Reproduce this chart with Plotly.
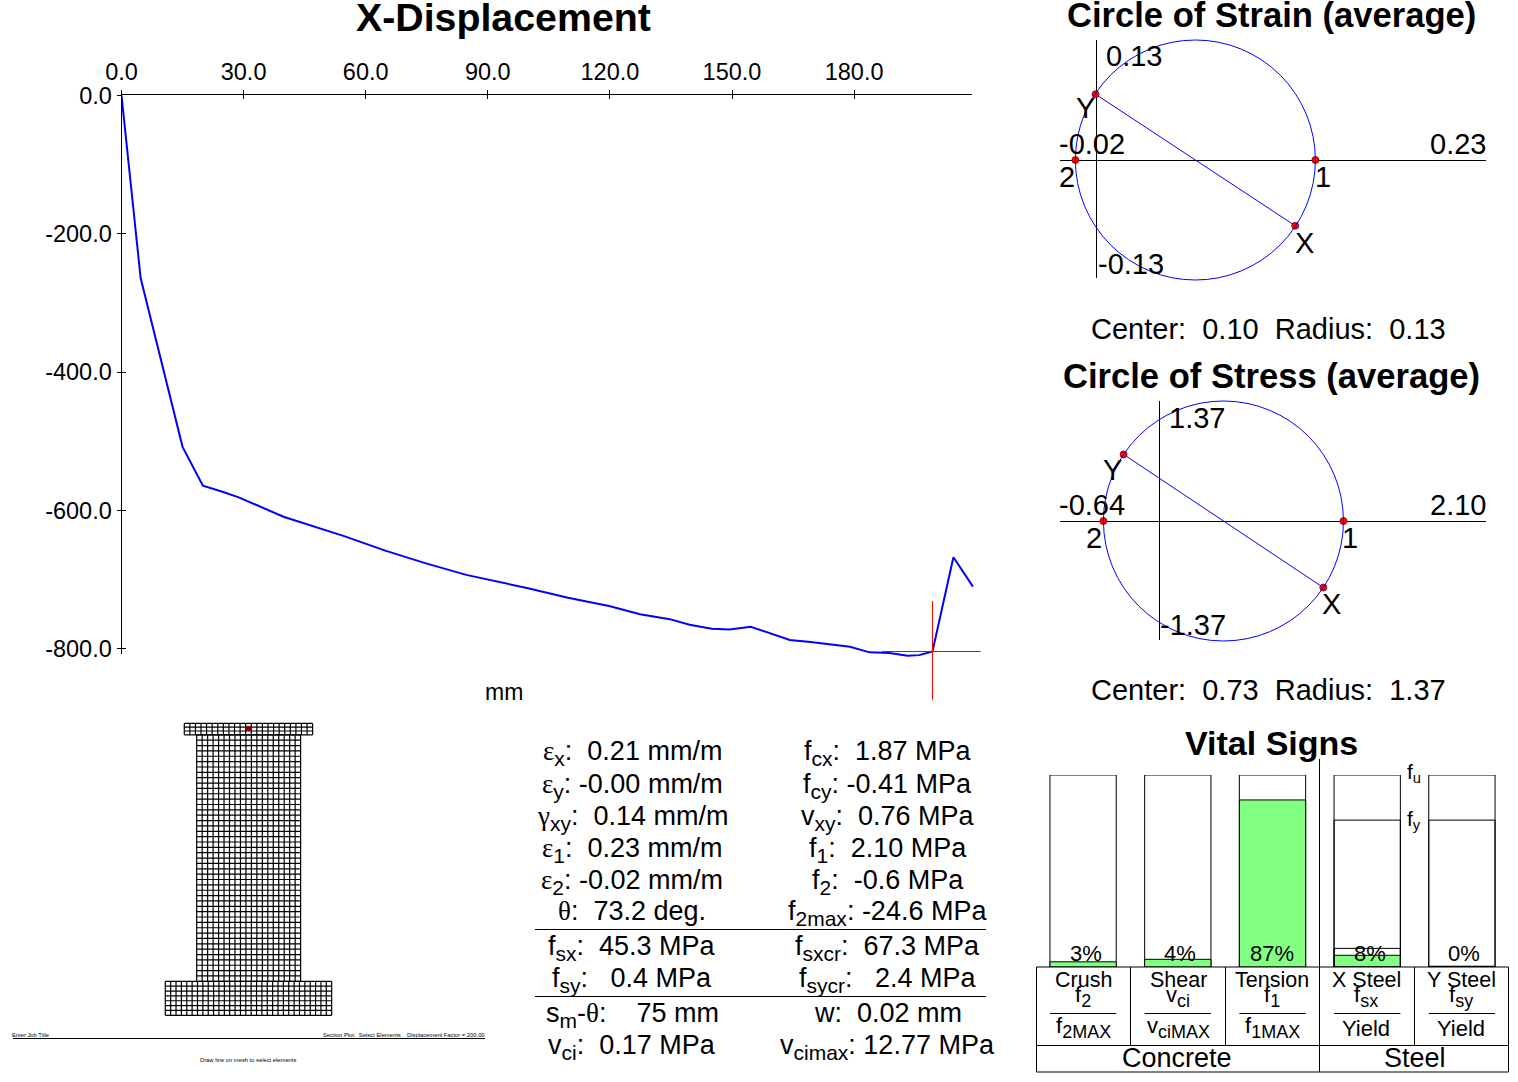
import plotly.graph_objects as go

W = 1518
H = 1082

# load curve
disp_x = [0.0, 4.7, 15.0, 20.0, 24.8, 28.8, 39.8, 44.7, 54.7, 64.8, 74.6, 84.7, 99.6, 109.7, 119.8, 127.4, 134.7,
          139.6, 145.0, 149.4, 154.6, 164.2, 169.3, 179.0, 183.8, 188.7, 193.1, 196.0, 199.26, 204.4, 209.2]
disp_y = [0, -264, -508, -564, -573, -581, -609, -618, -637, -658, -676, -693, -712, -726, -738, -750, -757,
          -765, -771, -772, -768, -787, -790, -797, -805, -806, -810, -809, -803.8, -667.6, -710]
x_ticks = [0, 30, 60, 90, 120, 150, 180]
x_tick_text = ["0.0", "30.0", "60.0", "90.0", "120.0", "150.0", "180.0"]
y_ticks = [0, -200, -400, -600, -800]
y_tick_text = ["0.0", "-200.0", "-400.0", "-600.0", "-800.0"]
cursor_x = 199.26
cursor_y = -803.8

# circles: centre, radius, then the X, Y, 1, 2 points
strain_center = 0.103
strain_radius = 0.125
strain_pts_x = [0.207, -0.001, 0.228, -0.022]
strain_pts_y = [-0.0685, 0.0685, 0, 0]
stress_center = 0.73
stress_radius = 1.37
stress_pts_x = [1.87, -0.41, 2.10, -0.64]
stress_pts_y = [-0.76, 0.76, 0, 0]

# vital signs
bar_names = ["Crush", "Shear", "Tension", "X Steel", "Y Steel"]
bar_full = [100, 100, 100, 100, 100]
bar_fill = [2.7, 4.0, 87.0, 6.1, 0.4]
bar_pct = ["3%", "4%", "87%", "8%", "0%"]
steel_bars = [3, 4]
steel_fy = [76.5, 76.5]
x_steel_bar = [3]
x_steel_cr = [9.7]

# mesh blocks: left, right, bottom, top, columns, rows
mesh_left = [-2.27, 0.0, -5.74]
mesh_right = [21.2, 19.0, 24.68]
mesh_bottom = [46.0, 0.0, -6.34]
mesh_top = [48.13, 46.0, 0.0]
mesh_cols = [23, 19, 31]
mesh_rows = [3, 46, 7]
picked_x = [8.96, 9.99, 9.99, 8.96, 8.96]
picked_y = [46.8, 46.8, 47.6, 47.6, 46.8]


def sub(s, size=21):
    return "<sub><span style='font-size:%gpx'>%s</span></sub>" % (size, s)


def gr(s):
    return "<span style='font-family:Liberation Serif'>" + s + "</span>"


left_rows = [
    gr("ε") + sub("x") + ":  0.21 mm/m",
    gr("ε") + sub("y") + ": -0.00 mm/m",
    gr("γ") + sub("xy") + ":  0.14 mm/m",
    gr("ε") + sub("1") + ":  0.23 mm/m",
    gr("ε") + sub("2") + ": -0.02 mm/m",
    gr("θ") + ":  73.2 deg.",
    "f" + sub("sx") + ":  45.3 MPa",
    "f" + sub("sy") + ":   0.4 MPa",
    "s" + sub("m") + "-" + gr("θ") + ":    75 mm",
    "v" + sub("ci") + ":  0.17 MPa",
]
right_rows = [
    "f" + sub("cx") + ":  1.87 MPa",
    "f" + sub("cy") + ": -0.41 MPa",
    "v" + sub("xy") + ":  0.76 MPa",
    "f" + sub("1") + ":  2.10 MPa",
    "f" + sub("2") + ":  -0.6 MPa",
    "f" + sub("2max") + ": -24.6 MPa",
    "f" + sub("sxcr") + ":  67.3 MPa",
    "f" + sub("sycr") + ":   2.4 MPa",
    "w:  0.02 mm",
    "v" + sub("cimax") + ": 12.77 MPa",
]
upper_syms = ["f" + sub("2", 18), "v" + sub("ci", 18), "f" + sub("1", 18), "f" + sub("sx", 18), "f" + sub("sy", 18)]
lower_syms = ["f" + sub("2MAX", 18), "v" + sub("ciMAX", 18), "f" + sub("1MAX", 18), "Yield", "Yield"]

FONT = "Liberation Sans"


def fx(p):
    return p / W


def fy(p):
    return 1 - p / H


def dom_x(a, b):
    return [fx(a), fx(b)]


def dom_y(top, bottom):
    return [fy(bottom), fy(top)]


notes = []


def label(x, y, text, size=29, bold=False, anchor="center"):
    if bold:
        text = "<b>" + text + "</b>"
    notes.append(dict(x=fx(x), y=fy(y), xref="paper", yref="paper", text=text, showarrow=False,
                      xanchor=anchor, yanchor="middle", borderpad=0, borderwidth=0,
                      font=dict(family=FONT, size=size, color="black")))


shapes = []


def rule(x0, y0, x1, y1, width=1):
    shapes.append(dict(type="line", xref="paper", yref="paper", x0=fx(x0), y0=fy(y0), x1=fx(x1), y1=fy(y1),
                       line=dict(color="black", width=width)))


fig = go.Figure()

# main curve sits on its own wider axes so the cursor can run past the drawn ones
fig.add_trace(go.Scatter(x=disp_x, y=disp_y, mode="lines", line=dict(color="#0000ff", width=2),
                         xaxis="x", yaxis="y", hoverinfo="skip"))
fig.add_trace(go.Scatter(x=[cursor_x - 12.5, cursor_x + 11.84], y=[cursor_y, cursor_y], mode="lines",
                         line=dict(color="#ff0000", width=1), hoverinfo="skip"))
fig.add_trace(go.Scatter(x=[cursor_x, cursor_x], y=[cursor_y + 73, cursor_y - 69.7], mode="lines",
                         line=dict(color="#ff0000", width=1), hoverinfo="skip"))
fig.add_trace(go.Scatter(x=[None], y=[None], xaxis="x6", yaxis="y6", hoverinfo="skip"))
fig.add_trace(go.Scatter(x=[None], y=[None], xaxis="x7", yaxis="y7", hoverinfo="skip"))


def circle(center, radius, xs, ys, xa, ya, low, high):
    shapes.append(dict(type="circle", xref=xa, yref=ya, x0=center - radius, x1=center + radius,
                       y0=-radius, y1=radius, line=dict(color="#0000ff", width=1)))
    fig.add_trace(go.Scatter(x=[0, 0], y=[low, high], mode="lines", line=dict(color="black", width=1),
                             xaxis=xa, yaxis=ya, hoverinfo="skip"))
    fig.add_trace(go.Scatter(x=xs[:2], y=ys[:2], mode="lines", line=dict(color="#0000ff", width=1),
                             xaxis=xa, yaxis=ya, hoverinfo="skip"))
    fig.add_trace(go.Scatter(x=xs, y=ys, mode="markers", cliponaxis=False,
                             marker=dict(color="#ff0000", size=7, line=dict(color="#800000", width=0.8)),
                             xaxis=xa, yaxis=ya, hoverinfo="skip"))


circle(strain_center, strain_radius, strain_pts_x, strain_pts_y, "x2", "y2", -0.1229, 0.125)
circle(stress_center, stress_radius, stress_pts_x, stress_pts_y, "x3", "y3", -1.359, 1.37)

# mesh
mesh_xs = []
mesh_ys = []
for left, right, bottom, top, cols, rows in zip(mesh_left, mesh_right, mesh_bottom, mesh_top, mesh_cols, mesh_rows):
    for i in range(cols + 1):
        x = left + (right - left) * i / cols
        mesh_xs += [x, x, None]
        mesh_ys += [bottom, top, None]
    for j in range(rows + 1):
        y = bottom + (top - bottom) * j / rows
        mesh_xs += [left, right, None]
        mesh_ys += [y, y, None]
fig.add_trace(go.Scatter(x=mesh_xs, y=mesh_ys, mode="lines", line=dict(color="black", width=1.2),
                         xaxis="x4", yaxis="y4", hoverinfo="skip"))
fig.add_trace(go.Scatter(x=picked_x, y=picked_y, mode="lines", fill="toself", fillcolor="#8b0000",
                         line=dict(color="#8b0000", width=0.5), xaxis="x4", yaxis="y4", hoverinfo="skip"))

# vital sign bars
bar_idx = list(range(len(bar_names)))
outline = dict(color="black", width=1)
fig.add_trace(go.Bar(x=bar_idx, y=bar_full, width=0.7, marker=dict(color="white", line=outline),
                     xaxis="x5", yaxis="y5", hoverinfo="skip"))
fig.add_trace(go.Bar(x=bar_idx, y=bar_fill, width=0.7, marker=dict(color="#80ff80", line=outline),
                     xaxis="x5", yaxis="y5", hoverinfo="skip"))
fig.add_trace(go.Bar(x=steel_bars, y=steel_fy, width=0.7, marker=dict(color="rgba(0,0,0,0)", line=outline),
                     xaxis="x5", yaxis="y5", hoverinfo="skip"))
fig.add_trace(go.Bar(x=x_steel_bar, y=x_steel_cr, width=0.7, marker=dict(color="rgba(0,0,0,0)", line=outline),
                     xaxis="x5", yaxis="y5", hoverinfo="skip"))

# titles
label(503, 17, "X-Displacement", size=39.3, bold=True)
label(1271, 15, "Circle of Strain (average)", size=34.6, bold=True)
label(1271, 376, "Circle of Stress (average)", size=34.6, bold=True)
label(1271, 743, "Vital Signs", size=34, bold=True)
label(504, 692, "mm", size=23)

# circle labels
for x, y, t in [(1134, 56, "0.13"), (1092, 144, "-0.02"), (1458, 144, "0.23"), (1067, 177, "2"), (1323, 177, "1"),
                (1085, 108, "Y"), (1304, 243, "X"), (1131, 264, "-0.13")]:
    label(x, y, t)
for x, y, t in [(1197, 418, "1.37"), (1092, 505, "-0.64"), (1458, 505, "2.10"), (1094, 538, "2"), (1350, 538, "1"),
                (1112, 470, "Y"), (1331, 604, "X"), (1193, 625, "-1.37")]:
    label(x, y, t)
label(1268, 329, "Center:  0.10  Radius:  0.13")
label(1268, 690, "Center:  0.73  Radius:  1.37")

# value table
left_y = [752.5, 785.5, 817.5, 849.5, 881.5, 911, 948, 980, 1014.5, 1047]
right_y = [752.5, 785.5, 817.5, 849.5, 881.5, 913, 948, 980, 1013, 1047]
for i in range(len(left_rows)):
    label(632, left_y[i], left_rows[i], size=27)
    label(888, right_y[i], right_rows[i], size=27)
rule(535, 929.5, 986, 929.5)
rule(535, 996.5, 986, 996.5)

# vital sign table
pct_x = [1085.5, 1180, 1272, 1370, 1464]
name_x = [1083, 1178, 1272, 1366, 1461]
for i, x in enumerate(name_x):
    label(pct_x[i], 954, bar_pct[i], size=22)
    label(x, 979.5, bar_names[i], size=21.5)
    label(x, 996, upper_syms[i], size=22)
    label(x, 1028 if lower_syms[i] == "Yield" else 1027, lower_syms[i], size=22)
    shapes.append(dict(type="line", xref="x5", yref="paper", x0=i - 0.35, x1=i + 0.35, y0=fy(1013.5), y1=fy(1013.5),
                       line=dict(color="black", width=1)))
label(1177, 1058, "Concrete", size=27)
label(1415, 1058, "Steel", size=27)
label(1414, 773, "f" + "<sub>u</sub>", size=21)
label(1414, 820, "f" + "<sub>y</sub>", size=21)
rule(1036.5, 967, 1508.5, 967)
rule(1036.5, 1045.5, 1508.5, 1045.5)
rule(1036.5, 1072, 1508.5, 1072)
rule(1036.5, 967, 1036.5, 1072)
rule(1508.5, 967, 1508.5, 1072)
rule(1319.5, 759, 1319.5, 1072)
for x in [1130.5, 1225.5, 1414.5]:
    rule(x, 967, x, 1045.5)

# mesh footer
label(12, 1035, "Enter Job Title", size=5.8, anchor="left")
label(485, 1035, "Section Plot:  Select Elements    Displacement Factor = 200.00", size=5.8, anchor="right")
label(248, 1060, "Draw line on mesh to select elements", size=5.8)
rule(13, 1038.5, 485, 1038.5)

hidden = dict(visible=False, showgrid=False, zeroline=False)
x_full = (972 - 121.5) / 4.07
y_full = (654 - 95.3) / 0.692

fig.update_layout(
    template="none",
    width=W,
    height=H,
    margin=dict(l=0, r=0, t=0, b=0, pad=0, autoexpand=False),
    paper_bgcolor="white",
    plot_bgcolor="rgba(0,0,0,0)",
    showlegend=False,
    barmode="overlay",
    font=dict(family=FONT, color="black"),
    annotations=notes,
    shapes=shapes,
    xaxis=dict(domain=dom_x(121.5, 990), range=[0, (990 - 121.5) / 4.07], anchor="y", **hidden),
    yaxis=dict(domain=dom_y(95.3, 705), range=[-(705 - 95.3) / 0.692, 0], anchor="x", **hidden),
    xaxis6=dict(domain=dom_x(121.5, 972), range=[0, x_full], side="top", anchor="y6", automargin=False,
                tickmode="array", tickvals=x_ticks, ticktext=x_tick_text, ticks="outside", ticklen=4,
                tickcolor="black", tickwidth=1, showline=True, linecolor="black", linewidth=1, showgrid=False,
                zeroline=False, tickfont=dict(family=FONT, size=23.5, color="black"), ticklabelstandoff=1),
    yaxis6=dict(domain=dom_y(95.3, 654), range=[-y_full, 0], anchor="x6", automargin=False,
                tickmode="array", tickvals=y_ticks, ticktext=y_tick_text, ticks="outside", ticklen=4,
                tickcolor="black", tickwidth=1, showline=True, linecolor="black", linewidth=1, showgrid=False,
                zeroline=False, tickfont=dict(family=FONT, size=23.5, color="black")),
    xaxis7=dict(domain=dom_x(121.5, 972), range=[0, x_full], side="top", anchor="y7",
                tickmode="array", tickvals=x_ticks, ticks="inside", ticklen=4, tickcolor="black", tickwidth=1,
                showticklabels=False, showgrid=False, zeroline=False),
    yaxis7=dict(domain=dom_y(95.3, 654), range=[-y_full, 0], anchor="x7",
                tickmode="array", tickvals=y_ticks, ticks="inside", ticklen=4, tickcolor="black", tickwidth=1,
                showticklabels=False, showgrid=False, zeroline=False),
    xaxis2=dict(domain=dom_x(1060, 1486), range=[-0.03802, 0.40573], anchor="y2", **hidden),
    yaxis2=dict(domain=dom_y(35, 285), range=[-0.1302, 0.1302], anchor="x2", visible=True, showticklabels=False,
                ticks="", showgrid=False, zeroline=True, zerolinecolor="black", zerolinewidth=1),
    xaxis3=dict(domain=dom_x(1060, 1486), range=[-1.1358, 3.7272], anchor="y3", **hidden),
    yaxis3=dict(domain=dom_y(396, 645), range=[-1.4155, 1.427], anchor="x3", visible=True, showticklabels=False,
                ticks="", showgrid=False, zeroline=True, zerolinecolor="black", zerolinewidth=1),
    xaxis4=dict(domain=dom_x(150, 350), range=[-8.537, 28.03], anchor="y4", **hidden),
    yaxis4=dict(domain=dom_y(715, 1025), range=[-8.15, 49.7], anchor="x4", **hidden),
    xaxis5=dict(domain=dom_x(1036.5, 1508.5), range=[-0.492, 4.492], anchor="y5", **hidden),
    yaxis5=dict(domain=dom_y(775, 967), range=[0, 100], anchor="x5", **hidden),
)

fig.write_html("out.html", config=dict(displayModeBar=False), post_script="document.body.style.margin='0';")
